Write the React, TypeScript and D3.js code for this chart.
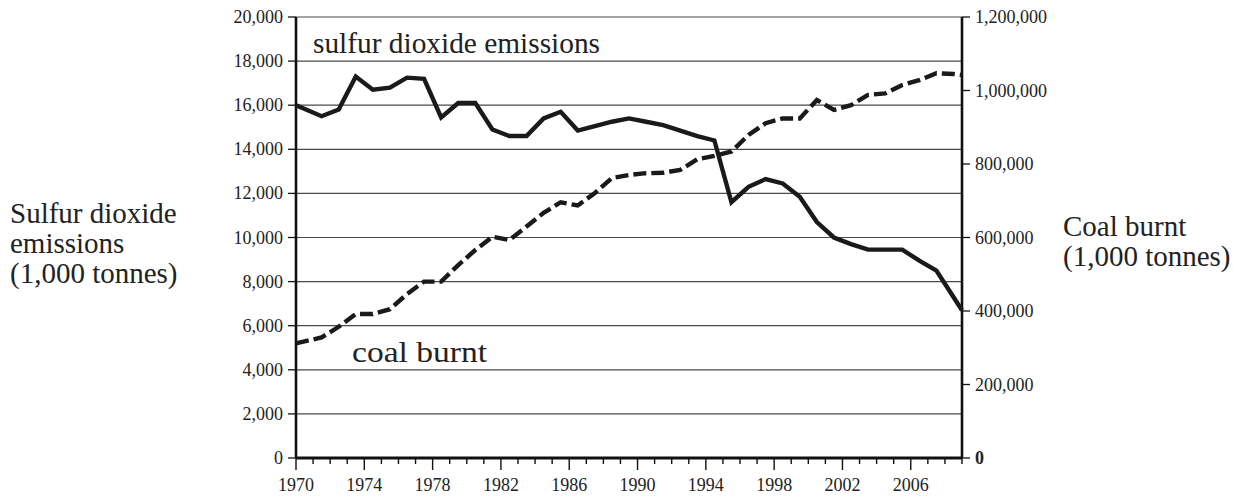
import * as d3 from "d3"
import { useEffect, useRef } from "react"

const W = 1255
const H = 497
const FONT = "'Liberation Serif', 'Times New Roman', serif"
const margin = { top: 17, right: 293, bottom: 39, left: 296 }
const width = W - margin.left - margin.right
const height = H - margin.top - margin.bottom

const years = [
  1970, 1971, 1972, 1973, 1974, 1975, 1976, 1977, 1978, 1979,
  1980, 1981, 1982, 1983, 1984, 1985, 1986, 1987, 1988, 1989,
  1990, 1991, 1992, 1993, 1994, 1995, 1996, 1997, 1998, 1999,
  2000, 2001, 2002, 2003, 2004, 2005, 2006, 2007, 2008, 2009,
]

// 1,000 tonnes (left axis)
const sulfur = [
  16000, 15500, 15800, 17300, 16700, 16800, 17250, 17200, 15450, 16100,
  16100, 14900, 14600, 14600, 15400, 15700, 14850, 15050, 15250, 15400,
  15250, 15100, 14850, 14600, 14400, 11600, 12300, 12650, 12450, 11850,
  10700, 10000, 9700, 9450, 9450, 9450, 8950, 8500, 7300, 6700,
]

// 1,000 tonnes (right axis)
const coal = [
  312000, 328000, 357000, 392000, 392000, 405000, 446000, 480000, 480000, 525000,
  566000, 602000, 593000, 630000, 667000, 696000, 687000, 721000, 762000, 770000,
  775000, 776000, 784000, 813000, 822000, 834000, 879000, 911000, 924000, 924000,
  974000, 947000, 960000, 988000, 992000, 1015000, 1028000, 1047000, 1045000, 1042000,
]

const leftTicks = [0, 2000, 4000, 6000, 8000, 10000, 12000, 14000, 16000, 18000, 20000]
const rightTicks = [0, 200000, 400000, 600000, 800000, 1000000, 1200000]
const yearLabels = [1970, 1974, 1978, 1982, 1986, 1990, 1994, 1998, 2002, 2006]

export default function App() {
  const svgRef = useRef<SVGSVGElement | null>(null)

  useEffect(() => {
    if (!svgRef.current) return
    const svg = d3.select(svgRef.current)
    svg.selectAll("*").remove()

    const g = svg.append("g").attr("transform", `translate(${margin.left},${margin.top})`)

    const x = d3.scaleLinear().domain([1970, 2009]).range([0, width])
    const yL = d3.scaleLinear().domain([0, 20000]).range([height, 0])
    const yR = d3.scaleLinear().domain([0, 1200000]).range([height, 0])
    const fmt = d3.format(",")

    // points sit mid-year, the ends are pinned to the axes
    const last = years.length - 1
    const xPos = (i: number) => x(i === 0 || i === last ? years[i] : years[i] + 0.5)

    // grid lines
    g.append("g")
      .selectAll("line")
      .data(leftTicks.filter((d) => d > 0))
      .enter()
      .append("line")
      .attr("x1", 0)
      .attr("x2", width)
      .attr("y1", (d) => yL(d))
      .attr("y2", (d) => yL(d))
      .attr("stroke", "#4a4a4a")
      .attr("stroke-width", 1.2)

    // left axis
    const left = g.append("g")
    left.append("line").attr("x1", 0).attr("x2", 0).attr("y1", 0).attr("y2", height)
      .attr("stroke", "#111").attr("stroke-width", 2.6)
    left.selectAll("line.tick").data(leftTicks).enter().append("line")
      .attr("class", "tick")
      .attr("x1", -8).attr("x2", 0)
      .attr("y1", (d) => yL(d)).attr("y2", (d) => yL(d))
      .attr("stroke", "#111").attr("stroke-width", 1.3)
    left.selectAll("text").data(leftTicks).enter().append("text")
      .attr("x", -13)
      .attr("y", (d) => yL(d) + 6)
      .attr("text-anchor", "end")
      .style("font-family", FONT)
      .style("font-size", "18px")
      .style("fill", "#222")
      .text((d) => fmt(d))

    // right axis
    const right = g.append("g").attr("transform", `translate(${width},0)`)
    right.append("line").attr("x1", 0).attr("x2", 0).attr("y1", 0).attr("y2", height)
      .attr("stroke", "#111").attr("stroke-width", 2.6)
    right.selectAll("line.tick").data(rightTicks).enter().append("line")
      .attr("class", "tick")
      .attr("x1", 0).attr("x2", 8)
      .attr("y1", (d) => yR(d)).attr("y2", (d) => yR(d))
      .attr("stroke", "#111").attr("stroke-width", 1.3)
    right.selectAll("text").data(rightTicks).enter().append("text")
      .attr("x", 13)
      .attr("y", (d) => yR(d) + 6)
      .style("font-family", FONT)
      .style("font-size", "18px")
      .style("font-weight", (d) => (d === 0 ? "bold" : "normal"))
      .style("fill", "#222")
      .text((d) => fmt(d))

    // bottom axis
    const bottom = g.append("g").attr("transform", `translate(0,${height})`)
    bottom.selectAll("line.tick").data(years).enter().append("line")
      .attr("class", "tick")
      .attr("x1", (d) => x(d)).attr("x2", (d) => x(d))
      .attr("y1", 0).attr("y2", (d) => (yearLabels.includes(d) ? 12 : 6))
      .attr("stroke", "#111").attr("stroke-width", 1.4)
    bottom.append("line").attr("x1", 0).attr("x2", width).attr("y1", 0).attr("y2", 0)
      .attr("stroke", "#111").attr("stroke-width", 3)
    bottom.selectAll("text").data(yearLabels).enter().append("text")
      .attr("x", (d) => x(d))
      .attr("y", 33)
      .attr("text-anchor", "middle")
      .style("font-family", FONT)
      .style("font-size", "18px")
      .style("fill", "#222")
      .text((d) => d)

    // lines
    const sulfurLine = d3.line<number>().x((_, i) => xPos(i)).y((d) => yL(d))
    const coalLine = d3.line<number>().x((_, i) => xPos(i)).y((d) => yR(d))

    g.append("path")
      .datum(sulfur)
      .attr("d", sulfurLine)
      .attr("fill", "none")
      .attr("stroke", "#1a1a1a")
      .attr("stroke-width", 4.4)
      .attr("stroke-linejoin", "miter")

    g.append("path")
      .datum(coal)
      .attr("d", coalLine)
      .attr("fill", "none")
      .attr("stroke", "#1a1a1a")
      .attr("stroke-width", 4.4)
      .attr("stroke-dasharray", "13,5")

    // in-plot labels
    g.append("text")
      .attr("x", 17)
      .attr("y", 36)
      .attr("textLength", 287)
      .attr("lengthAdjust", "spacingAndGlyphs")
      .style("font-family", FONT)
      .style("font-size", "30px")
      .style("fill", "#222")
      .text("sulfur dioxide emissions")

    g.append("text")
      .attr("x", 56)
      .attr("y", 345)
      .attr("textLength", 135)
      .attr("lengthAdjust", "spacingAndGlyphs")
      .style("font-family", FONT)
      .style("font-size", "30px")
      .style("fill", "#222")
      .text("coal burnt")

    // axis titles
    const leftTitle = svg.append("text")
      .style("font-family", FONT)
      .style("font-size", "29px")
      .style("fill", "#222")
    ;["Sulfur dioxide", "emissions", "(1,000 tonnes)"].forEach((t, i) => {
      leftTitle.append("tspan").attr("x", 10).attr("y", 223 + i * 30).text(t)
    })

    const rightTitle = svg.append("text")
      .style("font-family", FONT)
      .style("font-size", "29px")
      .style("fill", "#222")
    ;["Coal burnt", "(1,000 tonnes)"].forEach((t, i) => {
      rightTitle.append("tspan").attr("x", 1063).attr("y", 236 + i * 30).text(t)
    })
  }, [])

  return (
    <svg
      ref={svgRef}
      width={W}
      height={H}
      style={{ position: "absolute", left: 0, top: 0, background: "#fff" }}
      xmlns="http://www.w3.org/2000/svg"
    />
  )
}
